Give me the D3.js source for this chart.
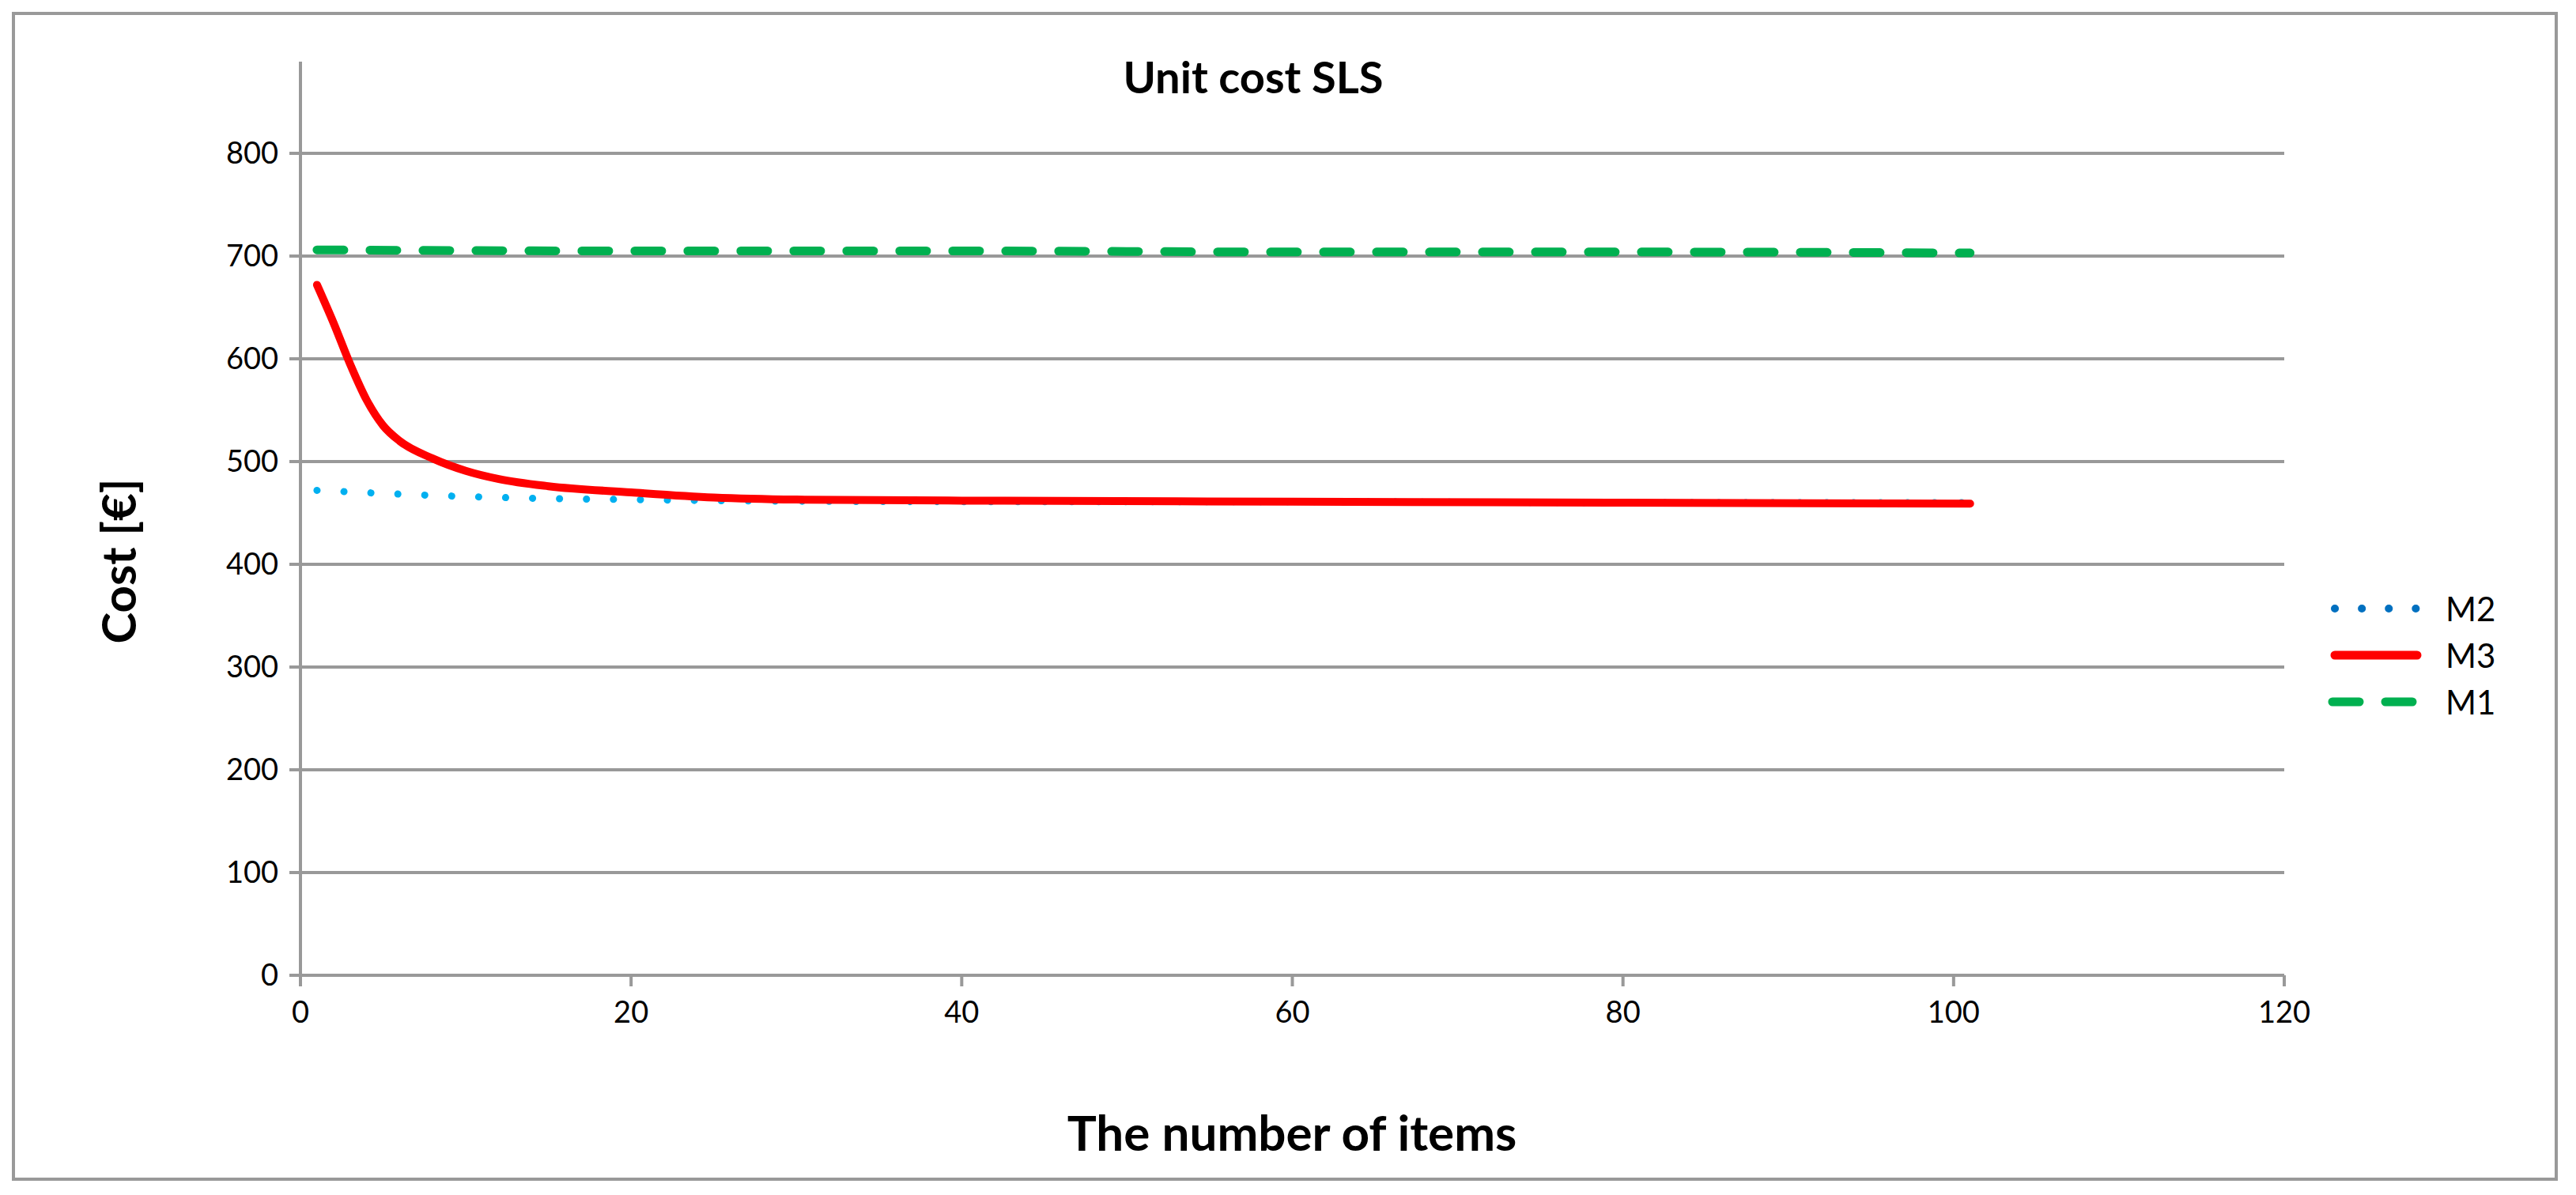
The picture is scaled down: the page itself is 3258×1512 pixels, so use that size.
<!DOCTYPE html><html><head><meta charset="utf-8"><script src="https://cdn.jsdelivr.net/npm/d3@7"></script>
<style>body{margin:0;background:#fff}text{font-family:Lato,"Open Sans",sans-serif}</style></head><body>
<svg id="c" width="3258" height="1512"></svg>
<script>
const xM1=[1,20,40,60,80,101], yM1=[706,705,705,704,704,703];
const xM2=[1,5,10,15,20,25,40,60,80,101], yM2=[472,469,466,464,463,462,461,461,460,460];
const xM3=[1,2,3,4,5,6,8,10,12,15,20,25,30,40,60,80,101], yM3=[672,635,595,560,535,520,503,491,483,476,470,465,463,462,461,460,459];
const yTicks=[0,100,200,300,400,500,600,700,800], xTicks=[0,20,40,60,80,100,120];
const svg=d3.select("#c");
svg.append("rect").attr("x",17).attr("y",17).attr("width",3216).attr("height",1475).attr("fill","#fff").attr("stroke","#999").attr("stroke-width",4);
const x=d3.scaleLinear().domain([0,120]).range([380,2889]);
const y=d3.scaleLinear().domain([0,800]).range([1234,194]);
const g=svg.append("g");
yTicks.forEach(t=>{g.append("line").attr("x1",x(0)-14).attr("x2",x(120)).attr("y1",y(t)).attr("y2",y(t)).attr("stroke","#999").attr("stroke-width",4);
 g.append("text").attr("x",x(0)-28).attr("y",y(t)+13).attr("text-anchor","end").attr("font-size",38).text(t);});
g.append("line").attr("x1",x(0)).attr("x2",x(0)).attr("y1",78).attr("y2",y(0)+14).attr("stroke","#999").attr("stroke-width",4);
xTicks.forEach(t=>{g.append("line").attr("x1",x(t)).attr("x2",x(t)).attr("y1",y(0)).attr("y2",y(0)+14).attr("stroke","#999").attr("stroke-width",4);
 g.append("text").attr("x",x(t)).attr("y",y(0)+60).attr("text-anchor","middle").attr("font-size",38).text(t);});
const line=d3.line().x(d=>x(d[0])).y(d=>y(d[1])).curve(d3.curveMonotoneX);
const z=(a,b)=>a.map((v,i)=>[v,b[i]]);
svg.append("path").attr("d",line(z(xM2,yM2))).attr("fill","none").attr("stroke","#00B0F0").attr("stroke-width",9).attr("stroke-linecap","round").attr("stroke-dasharray","0.1,34");
svg.append("path").attr("d",line(z(xM3,yM3))).attr("fill","none").attr("stroke","#FF0000").attr("stroke-width",10).attr("stroke-linecap","round");
svg.append("path").attr("d",line(z(xM1,yM1))).attr("fill","none").attr("stroke","#00B050").attr("stroke-width",11).attr("stroke-linecap","round").attr("stroke-dasharray","34,33");
svg.append("text").attr("x",1585).attr("y",118).attr("text-anchor","middle").attr("font-size",56).attr("font-weight","bold").text("Unit cost SLS");
svg.append("text").attr("transform","translate(172,710) rotate(-90)").attr("text-anchor","middle").attr("font-size",60).attr("font-weight","bold").text("Cost [€]");
svg.append("text").attr("x",1634).attr("y",1456).attr("text-anchor","middle").attr("font-size",62).attr("font-weight","bold").text("The number of items");
const leg=[["M2","#0070C0","0.1,34",10],["M3","#FF0000",null,11],["M1","#00B050","34,33",11]];
leg.forEach((l,i)=>{const yy=770+i*59;
 const p=svg.append("line").attr("x1",2953).attr("x2",3057).attr("y1",yy).attr("y2",yy).attr("stroke",l[1]).attr("stroke-width",l[3]).attr("stroke-linecap","round");
 if(l[2])p.attr("stroke-dasharray",l[2]);
 if(l[0]==="M1")p.attr("x1",2950).attr("x2",3060);
 svg.append("text").attr("x",3093).attr("y",yy+16).attr("font-size",42).text(l[0]);});
</script></body></html>
